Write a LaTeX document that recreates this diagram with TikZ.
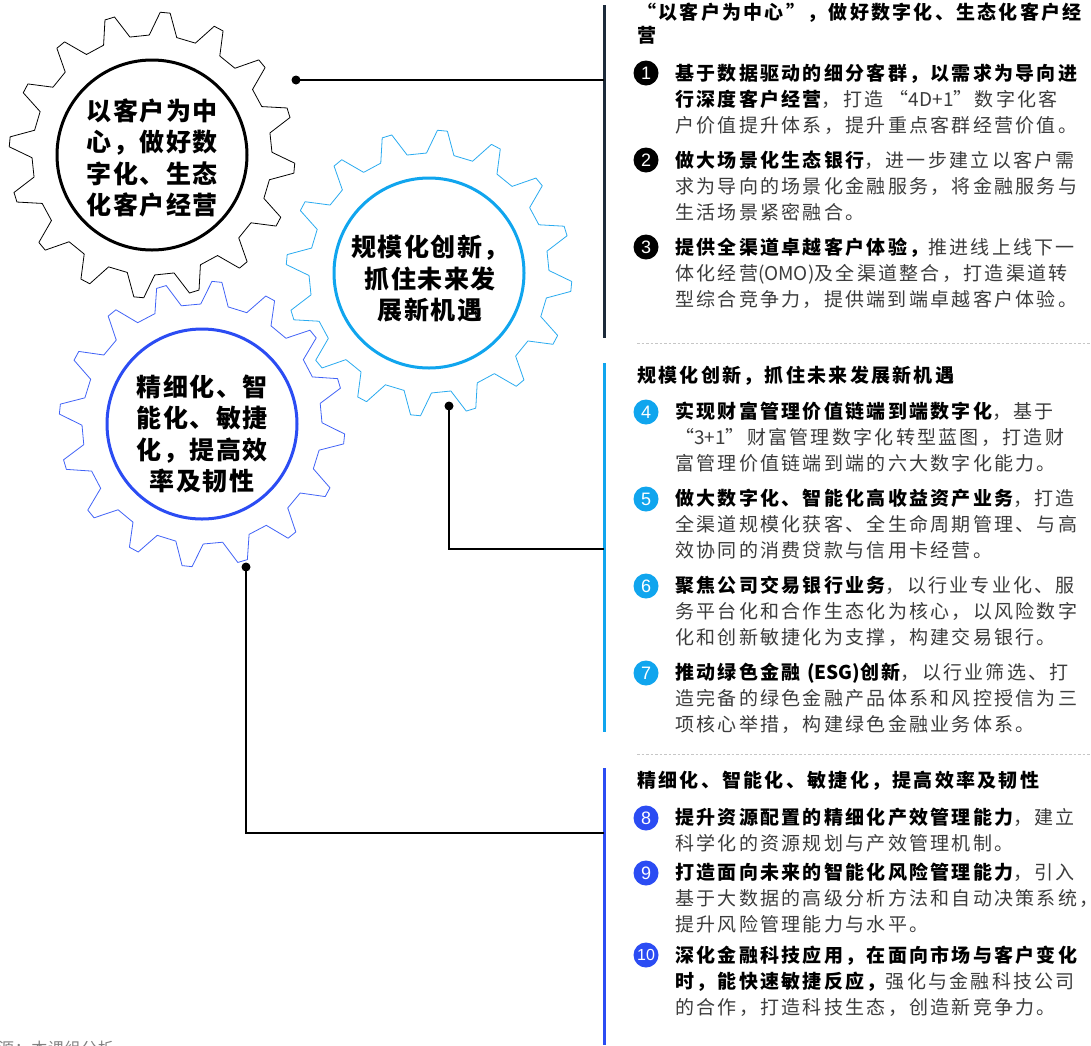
\documentclass[tikz,border=0pt]{standalone}
\usepackage{fontspec}
\usetikzlibrary{calc}
\newfontfamily\cjk{Noto Sans CJK SC}[LetterSpace=12]
\newfontfamily\cjkg{Noto Sans CJK SC}[LetterSpace=6]
\newfontfamily\cjkf{Noto Sans CJK SC}[LetterSpace=4]
\newfontfamily\numf{Liberation Sans}
\definecolor{navyc}{HTML}{1C2A3A}
\definecolor{cyanc}{HTML}{10A5EE}
\definecolor{bluec}{HTML}{2B4CF3}
\definecolor{cyang}{HTML}{2AABF0}
\definecolor{blueg}{HTML}{4163F7}
\definecolor{txtc}{HTML}{3C3C3C}
\newcommand\hl[1]{{\bfseries\color{black}#1}}
\newcommand\lat[1]{{\addfontfeature{LetterSpace=0}#1}}
\newcommand\drawgear[2]{%
  \draw[#1] (#2-6.6:120) \foreach \k in {0,...,15}{ -- (#2+22.5*\k-6.6:120) -- (#2+22.5*\k-2:143) -- (#2+22.5*\k+2:143) -- (#2+22.5*\k+6.6:120) } -- cycle;}
\begin{document}
\begin{tikzpicture}[x=1pt,y=1pt,
  gearline/.style={line width=0.8pt, line join=round},
  ring/.style={circle, line width=3pt, minimum size=190pt, inner sep=0pt},
  geartext/.style={align=center, inner sep=0pt, font=\cjkg\bfseries\fontsize{25}{31.5}\selectfont, text=black},
  conn/.style={line width=1.3pt, black},
  dotc/.style={circle, fill=black, inner sep=0pt, minimum size=9pt},
  bar/.style={line width=3pt},
  sep/.style={gray!45, line width=0.8pt, dash pattern=on 2.5pt off 2pt},
  body/.style={anchor=base west, align=left, inner sep=0pt, font=\cjk\fontsize{19}{26}\selectfont, text=txtc},
  ttl/.style={anchor=base west, align=left, inner sep=0pt, font=\cjk\bfseries\fontsize{19}{23}\selectfont, text=black},
  numc/.style={circle, fill=#1, text=white, minimum size=25pt, inner sep=0pt, font=\numf\fontsize{18}{18}\selectfont}]
\useasboundingbox (0,0) rectangle (1091,-1045);
\fill[white] (0,0) rectangle (1091,-1045);

% gears
\begin{scope}[shift={(152,-155)}]\drawgear{gearline,black}{84.7}\end{scope}
\begin{scope}[shift={(429,-273)}]\drawgear{gearline,cyang}{84.6}\end{scope}
\begin{scope}[shift={(202,-424)}]\drawgear{gearline,blueg}{84.0}\end{scope}

\node[ring, draw=black] (g1) at (152,-155) {};
\node[ring, draw=cyanc] (g2) at (429,-273) {};
\node[ring, draw=bluec] (g3) at (202,-424) {};
\node[geartext] (g1t) at (152,-158) {以客户为中\\心，做好数\\字化、生态\\化客户经营};
\node[geartext] (g2t) at (430,-279) {规模化创新，\\抓住未来发\\展新机遇};
\node[geartext] (g3t) at (202,-434) {精细化、智\\能化、敏捷\\化，提高效\\率及韧性};

% bars
\coordinate (b1t) at (604,-5);   \coordinate (b1b) at (604,-338);
\coordinate (b2t) at (604,-363); \coordinate (b2b) at (604,-732);
\coordinate (b3t) at (604,-768); \coordinate (b3b) at (604,-1045);
\draw[bar, navyc] (b1t) -- (b1b);
\draw[bar, cyanc] (b2t) -- (b2b);
\draw[bar, bluec] (b3t) -- (b3b);

% connectors
\coordinate (d1) at (296,-80);
\coordinate (d2) at (449,-406); \coordinate (e2) at (449,-549);
\coordinate (d3) at (246,-567); \coordinate (e3) at (246,-833);
\draw[conn] (d1) -- (d1 -| b1t);
\draw[conn] (d2) -- (e2) -- (e2 -| b2t);
\draw[conn] (d3) -- (e3) -- (e3 -| b3t);
\node[dotc] (p1) at (d1) {};
\node[dotc] (p2) at (d2) {};
\node[dotc] (p3) at (d3) {};

% separators
\coordinate (s1a) at (637,-343); \coordinate (s1b) at (1091,-343);
\coordinate (s2a) at (637,-754); \coordinate (s2b) at (1091,-754);
\draw[sep] (s1a) -- (s1b);
\draw[sep] (s2a) -- (s2b);

% section 1 (anchors sit on the baseline of the last line)
\node[ttl] (h1) at (637,-42) {“以客户为中心”，做好数字化、生态化客户经\\营};
\node[numc=black] (n1) at (646,-73) {1};
\node[body] (t1) at (675,-132) {\hl{基于数据驱动的细分客群，以需求为导向进}\\\hl{行深度客户经营}，打造 “\lat{4D+1}”数字化客\\户价值提升体系，提升重点客群经营价值。};
\node[numc=black] (n2) at (646,-160) {2};
\node[body] (t2) at (675,-219) {\hl{做大场景化生态银行}，进一步建立以客户需\\求为导向的场景化金融服务，将金融服务与\\生活场景紧密融合。};
\node[numc=black] (n3) at (646,-247) {3};
\node[body] (t3) at (675,-306) {\hl{提供全渠道卓越客户体验，}推进线上线下一\\体化经营\lat{(OMO)}及全渠道整合，打造渠道转\\型综合竞争力，提供端到端卓越客户体验。};

% section 2
\node[ttl] (h2) at (637,-382) {规模化创新，抓住未来发展新机遇};
\node[numc=cyanc] (n4) at (646,-412) {4};
\node[body] (t4) at (675,-470) {\hl{实现财富管理价值链端到端数字化}，基于\\“\lat{3+1}”财富管理数字化转型蓝图，打造财\\富管理价值链端到端的六大数字化能力。};
\node[numc=cyanc] (n5) at (646,-499) {5};
\node[body] (t5) at (675,-557) {\hl{做大数字化、智能化高收益资产业务}，打造\\全渠道规模化获客、全生命周期管理、与高\\效协同的消费贷款与信用卡经营。};
\node[numc=cyanc] (n6) at (646,-586) {6};
\node[body] (t6) at (675,-644) {\hl{聚焦公司交易银行业务}，以行业专业化、服\\务平台化和合作生态化为核心，以风险数字\\化和创新敏捷化为支撑，构建交易银行。};
\node[numc=cyanc] (n7) at (646,-673) {7};
\node[body] (t7) at (675,-731) {\hl{推动绿色金融 \lat{(ESG)}创新}，以行业筛选、打\\造完备的绿色金融产品体系和风控授信为三\\项核心举措，构建绿色金融业务体系。};

% section 3
\node[ttl] (h3) at (637,-787) {精细化、智能化、敏捷化，提高效率及韧性};
\node[numc=bluec] (n8) at (646,-818) {8};
\node[body] (t8) at (675,-850) {\hl{提升资源配置的精细化产效管理能力}，建立\\科学化的资源规划与产效管理机制。};
\node[numc=bluec] (n9) at (646,-873) {9};
\node[body] (t9) at (675,-931) {\hl{打造面向未来的智能化风险管理能力}，引入\\基于大数据的高级分析方法和自动决策系统，\\提升风险管理能力与水平。};
\node[numc=bluec, font=\numf\fontsize{16}{16}\selectfont] (n10) at (646,-955) {10};
\node[body] (t10) at (675,-1014) {\hl{深化金融科技应用，在面向市场与客户变化}\\\hl{时，能快速敏捷反应，}强化与金融科技公司\\的合作，打造科技生态，创造新竞争力。};

% source line (cut off at the bottom edge)
\node[anchor=base west, inner sep=0pt, font=\cjkf\fontsize{16}{16}\selectfont, text=gray] (src) at (-52,-1054) {资料来源：本课组分析};
\end{tikzpicture}
\end{document}
